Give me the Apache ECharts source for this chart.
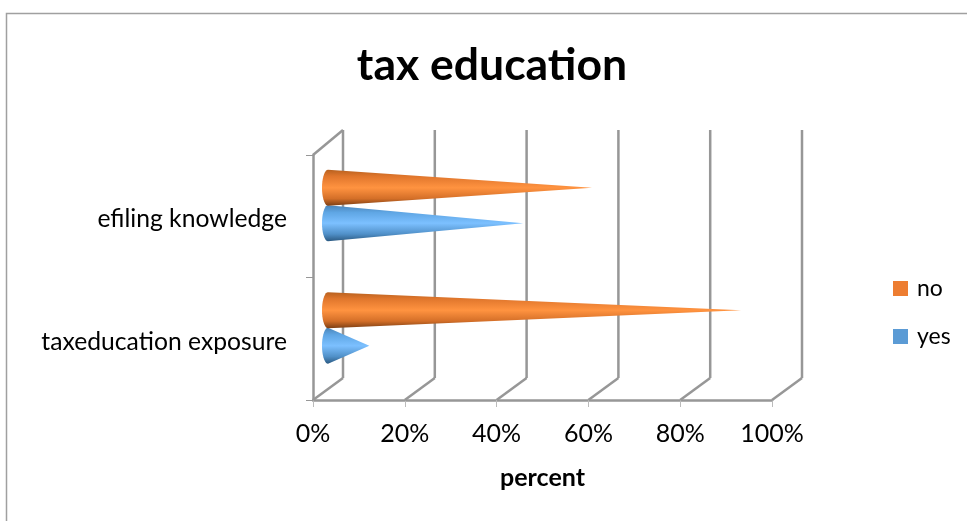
<!DOCTYPE html>
<html><head><meta charset="utf-8">
<style>html,body{margin:0;padding:0;background:#fff}#c{width:967px;height:521px}</style>
<script src="https://cdn.jsdelivr.net/npm/echarts@6/dist/echarts.min.js"></script>
</head><body><div id="c"></div>
<script>
const categories = ['taxeducation exposure', 'efiling knowledge'];
const noValues = [90, 57.5];
const yesValues = [9, 42.5];
const xTicks = [0, 20, 40, 60, 80, 100];
const seriesNames = ['no', 'yes'];

const DX = 30, DY = -22;      // depth of the 3D box
const FONT = 'Lato, Carlito, sans-serif';
const WALL = '#979797';
const chart = echarts.init(document.getElementById('c'), null, {renderer: 'canvas'});

function line(x1, y1, x2, y2, w, color) {
  return {type: 'line', shape: {x1, y1, x2, y2}, style: {stroke: color || WALL, lineWidth: w || 2.5}, silent: true};
}

function wallItem(params, api) {
  const v = api.value(0);
  const band = api.size([0, 1])[1];
  const x = api.coord([v, 0])[0];
  const bottomY = api.coord([v, 0])[1] + band / 2;
  const topY = api.coord([v, 1])[1] - band / 2;
  const children = [
    line(x, bottomY, x + DX, bottomY + DY),
    line(x + DX, bottomY + DY, x + DX, topY + DY - 3)
  ];
  if (params.dataIndex === 0) {
    children.push(line(x, topY, x + DX, topY + DY - 3));
  }
  return {type: 'group', children};
}

function coneRenderer(shift, stops) {
  return function (params, api) {
    const v = api.value(0), c = api.value(1);
    const tip = api.coord([v, c]);
    const base = api.coord([0, c]);
    const bx = base[0] + DX / 2, cy = base[1] + DY / 2 + shift;
    const tx = tip[0] + DX / 2;
    const ry = 18, rx = 6;
    const pts = [[tx, cy]];
    for (let a = 90; a <= 270; a += 10) {
      const r = a * Math.PI / 180;
      pts.push([bx + rx * Math.cos(r), cy + ry * Math.sin(r)]);
    }
    return {
      type: 'polygon',
      shape: {points: pts},
      style: {
        fill: new echarts.graphic.LinearGradient(0, 0, 0, 1, stops)
      }
    };
  };
}

const orangeStops = [
  {offset: 0, color: '#b8611f'}, {offset: 0.18, color: '#e0762c'},
  {offset: 0.5, color: '#ff9340'}, {offset: 0.8, color: '#d46f28'},
  {offset: 1, color: '#7d3f14'}
];
const blueStops = [
  {offset: 0, color: '#4a84b8'}, {offset: 0.2, color: '#5fa6e4'},
  {offset: 0.5, color: '#7cc0ff'}, {offset: 0.8, color: '#5090c8'},
  {offset: 1, color: '#2c5a82'}
];

chart.setOption({
  animation: false,
  backgroundColor: '#fff',
  title: {
    text: 'tax education', left: 487, top: 38, textAlign: 'center',
    textStyle: {fontFamily: FONT, fontSize: 44.5, fontWeight: 'bold', color: '#000'}
  },
  legend: {
    orient: 'vertical', left: 888, top: 272, itemWidth: 15, itemHeight: 15, itemGap: 25,
    data: [{name: 'no', icon: 'rect'}, {name: 'yes', icon: 'rect'}],
    textStyle: {fontFamily: FONT, fontSize: 23, color: '#000', padding: [0, 0, 0, 4]}
  },
  grid: {left: 313, right: 195, top: 155, bottom: 121},
  xAxis: {
    type: 'value', min: 0, max: 100, interval: 20,
    name: 'percent', nameLocation: 'middle', nameGap: 65,
    nameTextStyle: {fontFamily: FONT, fontSize: 25, fontWeight: 'bold', color: '#000'},
    axisLine: {show: true, lineStyle: {color: WALL, width: 2.5}},
    axisTick: {show: true, length: 7, lineStyle: {color: '#bbb', width: 1}},
    axisLabel: {formatter: '{value}%', fontFamily: FONT, fontSize: 25, color: '#000', margin: 21},
    splitLine: {show: false}
  },
  yAxis: {
    type: 'category', data: categories,
    axisLine: {show: true, lineStyle: {color: WALL, width: 2.5}},
    axisTick: {show: true, length: 7, lineStyle: {color: WALL, width: 1}},
    axisLabel: {fontFamily: FONT, fontSize: 24.7, color: '#000', margin: 26, verticalAlign: 'top', lineHeight: 6},
    splitLine: {show: false}
  },
  graphic: [{
    type: 'polyline', silent: true, z: -1,
    shape: {points: [[6.5, 521], [6.5, 13.5], [967, 13.5]]},
    style: {fill: 'none', stroke: '#a0a0a0', lineWidth: 1.5}
  }],
  series: [
    {
      type: 'custom', name: 'walls', coordinateSystem: 'cartesian2d', z: 1, silent: true,
      renderItem: wallItem, encode: {x: 0, y: 1}, clip: false,
      data: xTicks.map(t => [t, 0])
    },
    {
      type: 'custom', name: seriesNames[0], coordinateSystem: 'cartesian2d', z: 3, clip: false,
      itemStyle: {color: '#ED7D31'}, encode: {x: 0, y: 1},
      renderItem: coneRenderer(-17.5, orangeStops),
      data: noValues.map((v, i) => [v, i])
    },
    {
      type: 'custom', name: seriesNames[1], coordinateSystem: 'cartesian2d', z: 2, clip: false,
      itemStyle: {color: '#5B9BD5'}, encode: {x: 0, y: 1},
      renderItem: coneRenderer(18, blueStops),
      data: yesValues.map((v, i) => [v, i])
    }
  ]
});
</script></body></html>
